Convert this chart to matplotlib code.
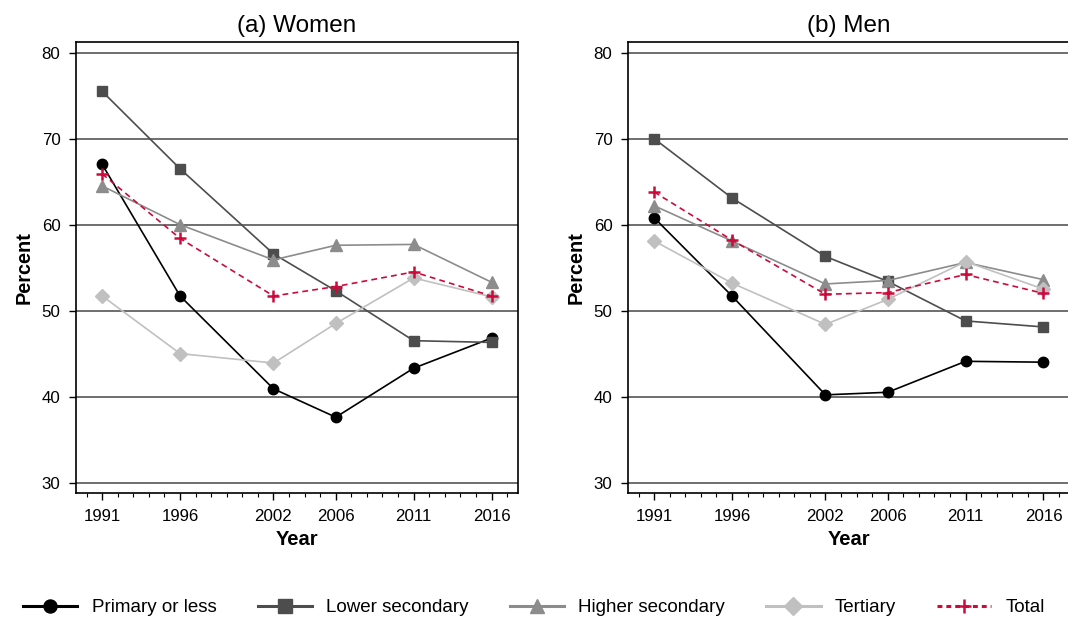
import matplotlib
matplotlib.use("Agg")
import matplotlib.pyplot as plt
from matplotlib.ticker import MultipleLocator

plt.rcParams["font.family"] = ["Liberation Sans", "DejaVu Sans"]

years = [1991, 1996, 2002, 2006, 2011, 2016]
series_names = ["Primary or less", "Lower secondary", "Higher secondary", "Tertiary", "Total"]

women_primary = [67.0, 51.7, 40.9, 37.6, 43.3, 46.8]
women_lower = [75.5, 66.5, 56.6, 52.3, 46.5, 46.3]
women_higher = [64.5, 60.0, 55.9, 57.6, 57.7, 53.3]
women_tertiary = [51.7, 45.0, 43.9, 48.5, 53.8, 51.6]
women_total = [65.9, 58.4, 51.7, 52.8, 54.5, 51.7]

men_primary = [60.8, 51.7, 40.2, 40.5, 44.1, 44.0]
men_lower = [70.0, 63.1, 56.3, 53.4, 48.8, 48.1]
men_higher = [62.2, 58.1, 53.1, 53.5, 55.6, 53.6]
men_tertiary = [58.1, 53.2, 48.4, 51.3, 55.7, 52.5]
men_total = [63.8, 58.2, 51.9, 52.1, 54.2, 52.0]

panels = [
    ("(a) Women", [women_primary, women_lower, women_higher, women_tertiary, women_total]),
    ("(b) Men", [men_primary, men_lower, men_higher, men_tertiary, men_total]),
]

styles = [
    dict(color="#000000", marker="o", markersize=7.5, linestyle="-"),
    dict(color="#4d4d4d", marker="s", markersize=7.5, linestyle="-"),
    dict(color="#8c8c8c", marker="^", markersize=8.5, linestyle="-"),
    dict(color="#c0c0c0", marker="D", markersize=7, linestyle="-"),
    dict(color="#cc0a3c", marker="+", markersize=8, markeredgewidth=1.8, linestyle=(0, (3.5, 2.5))),
]

fig = plt.figure(figsize=(10.68, 6.2), dpi=100)
ax_lefts = [0.0709, 0.5877]

handles = []
for left, (title, data) in zip(ax_lefts, panels):
    ax = fig.add_axes([left, 0.2044, 0.4141, 0.7279])
    for y in range(30, 81, 10):
        ax.axhline(y, color="#555555", linewidth=1.2, zorder=0)
    lines = []
    for values, style in zip(data, styles):
        (ln,) = ax.plot(years, values, linewidth=1.2, zorder=3, **style)
        lines.append(ln)
    handles = lines
    ax.set_xlim(1989.3, 2017.7)
    ax.set_ylim(28.75, 81.25)
    ax.set_xticks(years)
    ax.xaxis.set_minor_locator(MultipleLocator(1))
    ax.set_yticks(range(30, 81, 10))
    ax.tick_params(axis="both", which="major", direction="out", length=5, width=1,
                   labelsize=12.2, colors="#000000", pad=6)
    ax.tick_params(axis="x", which="minor", direction="out", length=3, width=0.8)
    for sp in ax.spines.values():
        sp.set_linewidth(1.2)
        sp.set_color("#000000")
    ax.set_title(title, fontsize=17.5, pad=7)
    ax.set_xlabel("Year", fontsize=14.5, fontweight="bold", labelpad=5)
    ax.set_ylabel("Percent", fontsize=14.3, fontweight="bold", labelpad=6)

leg = fig.legend(handles, series_names, loc="center", bbox_to_anchor=(0.5, 0.02),
                 ncol=5, frameon=False, fontsize=13.5, handlelength=2.9,
                 columnspacing=2.2, handletextpad=0.75, markerscale=1.25)
for ln in leg.get_lines():
    ln.set_linewidth(2.2)
# shorter dashes for the Total key
leg.get_lines()[-1].set_linestyle((0, (1.6, 1.3)))

fig.savefig("out.png", dpi=100)
